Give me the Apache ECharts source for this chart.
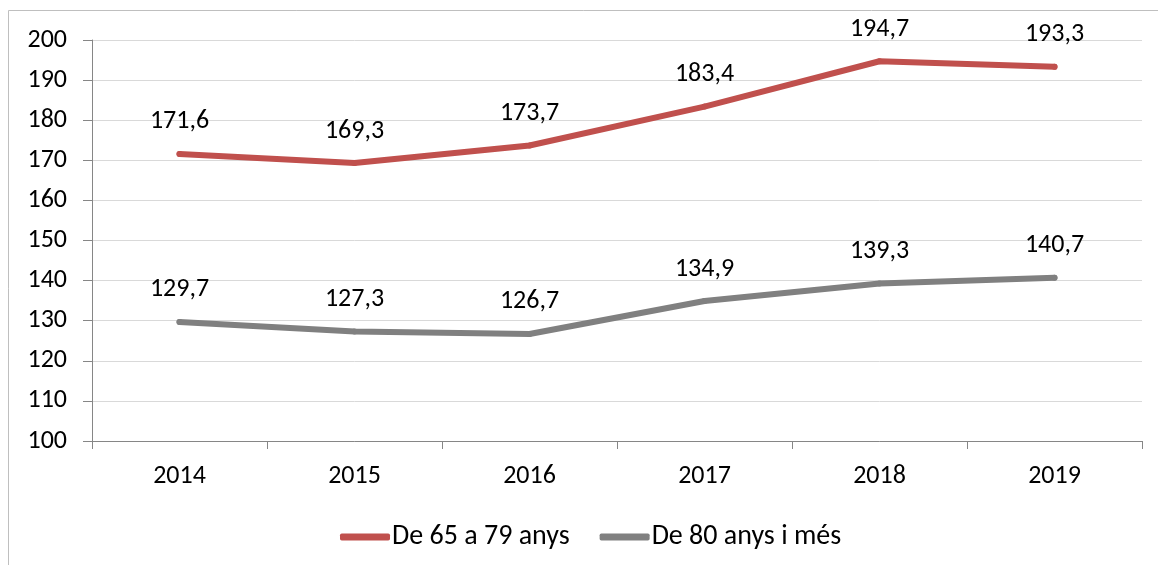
<!DOCTYPE html>
<html>
<head>
    <meta charset="utf-8">
    <title>ECharts</title>
    <script src="https://cdn.jsdelivr.net/npm/echarts@6/dist/echarts.min.js"></script>
</head>
<body style="margin:0;">
<div id="main" style="width:1158px;height:565px;"></div>

<script type="text/javascript">
    var years = ['2014', '2015', '2016', '2017', '2018', '2019'];
    var seriesNames = ['De 65 a 79 anys', 'De 80 anys i més'];
    var ages65to79 = [171.6, 169.3, 173.7, 183.4, 194.7, 193.3];
    var ages80plus = [129.7, 127.3, 126.7, 134.9, 139.3, 140.7];

    var fontFamily = 'Carlito, "Open Sans", "Noto Sans", sans-serif';
    var fs = 26;

    function commaLabel(p) {
        return p.value.toFixed(1).replace('.', ',');
    }

    var option = {
        animation: false,
        backgroundColor: '#fff',
        textStyle: {fontFamily: fontFamily, fontSize: fs},
        graphic: [{
            type: 'rect',
            shape: {x: 8.5, y: 10.5, width: 1200, height: 600},
            style: {fill: 'none', stroke: '#bfbfbf', lineWidth: 1},
            silent: true
        }],
        grid: {left: 92, right: 16, top: 40, bottom: 124},
        legend: {
            data: seriesNames,
            top: 518,
            left: 335,
            itemWidth: 50,
            itemHeight: 7,
            itemGap: 30,
            icon: 'roundRect',
            textStyle: {fontSize: 28, color: '#000', fontFamily: fontFamily, padding: [0, 0, 0, -3]}
        },
        xAxis: {
            type: 'category',
            data: years,
            boundaryGap: true,
            axisLine: {lineStyle: {color: '#868686', width: 1}},
            axisTick: {show: true, length: 8, lineStyle: {color: '#868686'}},
            axisLabel: {fontSize: fs, fontFamily: fontFamily, color: '#000', margin: 22}
        },
        yAxis: {
            type: 'value',
            min: 100,
            max: 200,
            interval: 10,
            axisLine: {show: true, lineStyle: {color: '#868686', width: 1}},
            axisTick: {show: true, length: 9, lineStyle: {color: '#868686'}},
            axisLabel: {fontSize: fs, fontFamily: fontFamily, color: '#000', margin: 25},
            splitLine: {lineStyle: {color: '#d9d9d9', width: 1}}
        },
        series: [{
            name: seriesNames[0],
            type: 'line',
            data: ages65to79,
            symbol: 'circle',
            symbolSize: 6,
            showSymbol: true,
            color: '#c0504d',
            lineStyle: {width: 6, cap: 'round', join: 'round'},
            label: {show: true, position: 'top', distance: 16, fontSize: fs, fontFamily: fontFamily, color: '#000', formatter: commaLabel}
        }, {
            name: seriesNames[1],
            type: 'line',
            data: ages80plus,
            symbol: 'circle',
            symbolSize: 6,
            showSymbol: true,
            color: '#808080',
            lineStyle: {width: 6, cap: 'round', join: 'round'},
            label: {show: true, position: 'top', distance: 16, fontSize: fs, fontFamily: fontFamily, color: '#000', formatter: commaLabel}
        }]
    };

    var myChart = echarts.init(document.getElementById('main'));
    myChart.setOption(option);
</script>
</body>
</html>
